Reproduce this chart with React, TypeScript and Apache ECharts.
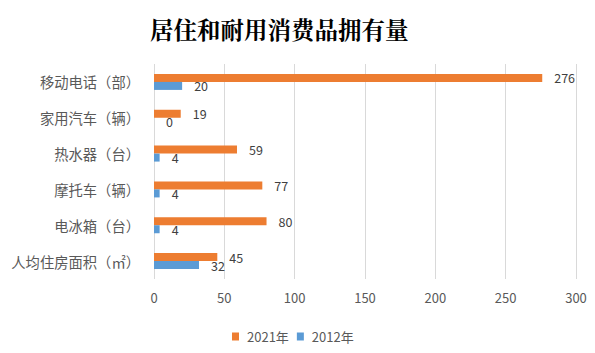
import React, { useEffect, useRef } from "react";
import * as echarts from "echarts";

const categories = [
  "人均住房面积（㎡）",
  "电冰箱（台）",
  "摩托车（辆）",
  "热水器（台）",
  "家用汽车（辆）",
  "移动电话（部）",
];
const values2021 = [45, 80, 77, 59, 19, 276];
const values2012 = [32, 4, 4, 4, 0, 20];
const seriesNames = ["2021年", "2012年"];
const xTicks = { min: 0, max: 300, interval: 50 };

export default function App() {
  const ref = useRef<HTMLDivElement>(null);
  useEffect(() => {
    const chart = echarts.init(ref.current!, null, { renderer: "svg" });
    const font = "'Noto Sans CJK SC', 'Noto Sans', sans-serif";
    const labelStyle = {
      show: true,
      position: "right",
      distance: 12,
      fontFamily: font,
      fontSize: 12.5,
      color: "#404040",
    };
    chart.setOption({
      animation: false,
      backgroundColor: "#ffffff",
      title: {
        text: "居住和耐用消费品拥有量",
        left: 145,
        top: 12,
        textStyle: {
          fontFamily: "'Noto Serif CJK SC', 'Noto Sans CJK SC', serif",
          fontSize: 23.5,
          fontWeight: "bold",
          color: "#000000",
        },
      },
      legend: {
        top: 325,
        left: 227,
        itemWidth: 7,
        itemHeight: 8,
        itemGap: 8,
        icon: "rect",
        data: seriesNames,
        textStyle: { fontFamily: font, fontSize: 13, color: "#595959", padding: [0, 0, 0, 3] },
      },
      grid: { left: 154, right: 19, top: 64, bottom: 74, containLabel: false },
      xAxis: {
        type: "value",
        min: xTicks.min,
        max: xTicks.max,
        interval: xTicks.interval,
        axisLine: { show: false },
        axisTick: { show: false },
        splitLine: { show: true, lineStyle: { color: "#d9d9d9", width: 1 } },
        axisLabel: { margin: 12, fontFamily: font, fontSize: 13, color: "#595959" },
      },
      yAxis: {
        type: "category",
        data: categories,
        axisLine: { show: false },
        axisTick: { show: false },
        axisLabel: { margin: 14, fontFamily: font, fontSize: 14.3, color: "#595959" },
      },
      series: [
        {
          name: seriesNames[0],
          type: "bar",
          data: values2021,
          barWidth: 8,
          barGap: "0%",
          itemStyle: { color: "#ED7D31" },
          label: { ...labelStyle },
        },
        {
          name: seriesNames[1],
          type: "bar",
          data: values2012,
          barWidth: 8,
          barGap: "0%",
          itemStyle: { color: "#5B9BD5" },
          label: { ...labelStyle },
        },
      ],
    });
    return () => chart.dispose();
  }, []);
  return <div ref={ref} style={{ width: 595, height: 353, margin: -8 }} />;
}
